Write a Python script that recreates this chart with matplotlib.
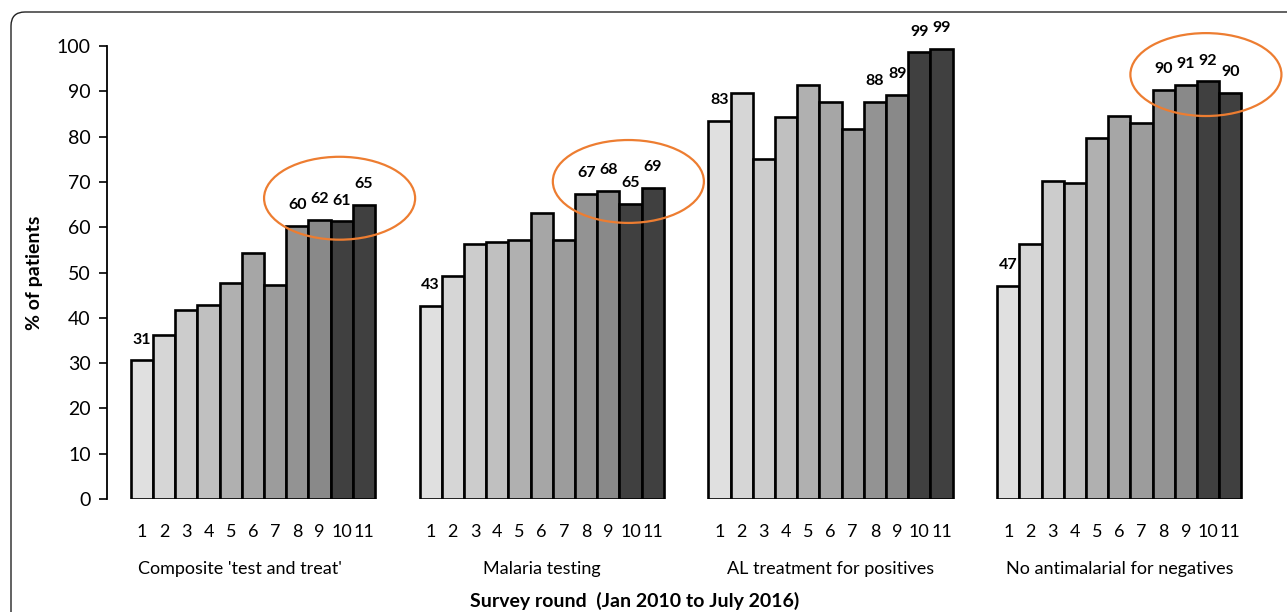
import matplotlib.pyplot as plt
import numpy as np
from matplotlib.patches import Ellipse, FancyBboxPatch

plt.rcParams['font.family'] = ['Lato', 'DejaVu Sans']

groups = ["Composite 'test and treat'", "Malaria testing",
          "AL treatment for positives", "No antimalarial for negatives"]
rounds = [str(i) for i in range(1, 12)]

composite = [30.6, 36.2, 41.8, 42.8, 47.6, 54.3, 47.3, 60.3, 61.6, 61.3, 64.9]
testing = [42.6, 49.3, 56.4, 56.8, 57.2, 63.2, 57.2, 67.4, 68.0, 65.1, 68.6]
al_treat = [83.4, 89.7, 75.0, 84.4, 91.3, 87.7, 81.7, 87.7, 89.2, 98.6, 99.3]
no_anti = [47.1, 56.2, 70.2, 69.8, 79.6, 84.6, 83.0, 90.4, 91.4, 92.2, 89.7]
series = [composite, testing, al_treat, no_anti]

# bars that get a value label, and groups with an orange circle
labelled = [0, 7, 8, 9, 10]
circled = [0, 1, 3]

shades = ['#e0e0e0', '#d6d6d6', '#cccccc', '#c0c0c0', '#b0b0b0', '#a6a6a6',
          '#9c9c9c', '#939393', '#898989', '#404040', '#404040']

fig = plt.figure(figsize=(12.87, 6.12), dpi=100)
ax = fig.add_axes([0.0835, 0.1846, 0.907, 0.7402])

step = len(rounds) + 2
for g, vals in enumerate(series):
    x = g * step + np.arange(len(rounds))
    ax.bar(x, vals, width=1.0, color=shades, edgecolor='black', linewidth=1.9)
    for i in labelled:
        ax.annotate(str(int(round(vals[i]))), (x[i], vals[i]), xytext=(0, 15),
                    textcoords='offset points', ha='center', va='center',
                    fontsize=11.5, fontweight='bold')
    ax.text(g * step + 5 - (0.6 if g == 0 else 0), -0.155, groups[g],
            transform=ax.get_xaxis_transform(),
            ha='center', va='center', fontsize=13)
    if g in circled:
        top = max(vals[7:])
        ax.add_patch(Ellipse((x[7:].mean() + 0.4, top + 1.5), 6.8, 18.3,
                             fill=False, edgecolor='#ed7d31', linewidth=1.6,
                             clip_on=False, zorder=5))

xt = np.concatenate([g * step + np.arange(len(rounds)) for g in range(len(series))])
ax.set_xticks(xt)
ax.set_xticklabels(rounds * len(series), fontsize=13)
ax.tick_params(axis='x', length=0, pad=18)
ax.set_xlim(-1.55, 51)
ax.set_ylim(0, 100)
ax.set_yticks(np.arange(0, 101, 10))
ax.tick_params(axis='y', labelsize=14, length=6, width=1.2, pad=6)
ax.set_ylabel('% of patients', fontsize=14, fontweight='bold', labelpad=10)
for s in ['top', 'right', 'bottom']:
    ax.spines[s].set_visible(False)
ax.spines['left'].set_linewidth(1.3)

fig.text(635 / 1287, 1 - 601 / 612, 'Survey round  (Jan 2010 to July 2016)',
         ha='center', va='center', fontsize=14, fontweight='bold')

frame = FancyBboxPatch((11, -60), 1400, 660, boxstyle='round,pad=0,rounding_size=14',
                       transform=None, fill=False, edgecolor='#222222', linewidth=1.0)
fig.patches.append(frame)

fig.savefig('out.png', dpi=100)
